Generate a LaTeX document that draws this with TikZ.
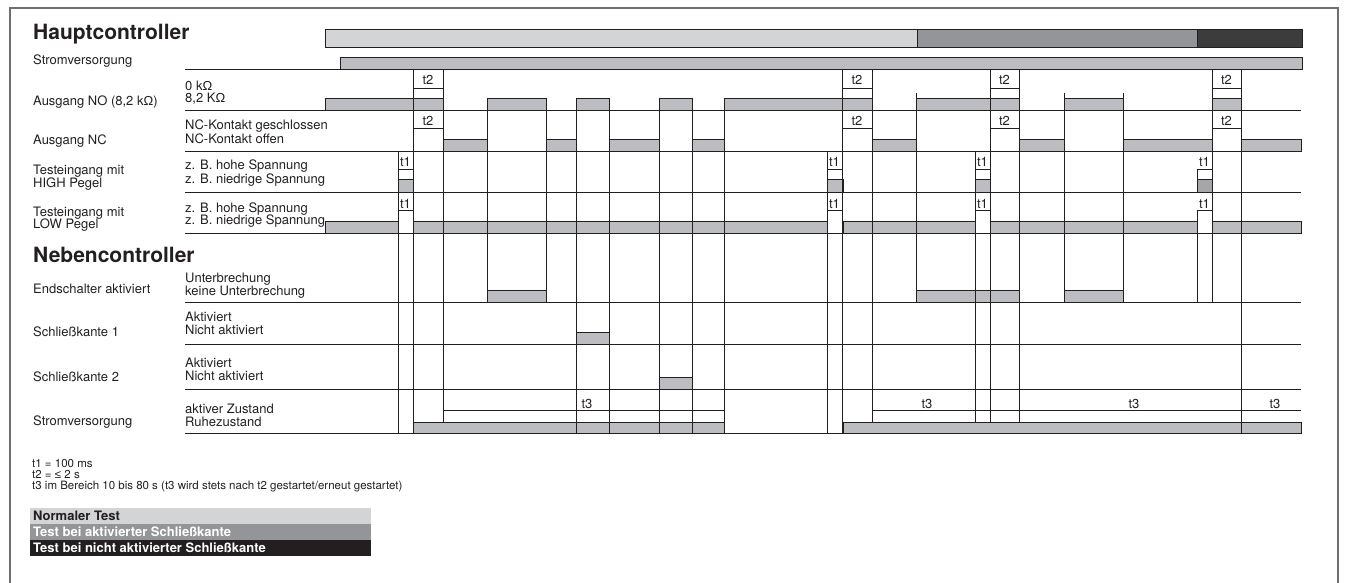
\documentclass[tikz,border=0pt]{standalone}
\usepackage{fontspec}
\setmainfont{TeX Gyre Heros}
\newfontfamily\symf{Liberation Sans}
\definecolor{ink}{HTML}{231F20}
\definecolor{sigfill}{HTML}{BCBDC0}
\definecolor{lightbar}{HTML}{D3D4D6}
\definecolor{midbar}{HTML}{939598}
\definecolor{darkbar}{HTML}{3C3C3C}
\definecolor{darksig}{HTML}{A5A6A8}
\definecolor{framecol}{HTML}{6D6E70}
\begin{document}
\begin{tikzpicture}[x=1pt,y=-1pt,
  lbl/.style={anchor=base west, inner sep=0pt, font=\fontsize{13}{13}\selectfont, text=ink},
  ttl/.style={anchor=base west, inner sep=0pt, font=\fontsize{21}{21}\selectfont\bfseries, text=ink},
  foot/.style={anchor=base west, inner sep=0pt, font=\fontsize{11.5}{11.5}\selectfont, text=ink},
  leg/.style={anchor=base west, inner sep=0pt, font=\fontsize{13}{13}\selectfont\bfseries},
  tl/.style={anchor=base, inner sep=0pt, font=\fontsize{13}{13}\selectfont, text=ink},
  sig/.style={fill=sigfill, draw=ink, line width=0.7pt},
  phase/.style={draw=ink, line width=0.7pt},
  grid/.style={draw=ink, line width=0.9pt}]
\useasboundingbox (0,0) rectangle (1345,583);
% frame
\draw[framecol, line width=1.5pt] (10,600) -- (10,8) -- (1338,8) -- (1338,600);
% phase bar
\draw[phase, fill=lightbar] (325,29) rectangle (917,47);
\draw[phase, fill=midbar] (917,29) rectangle (1197,47);
\draw[phase, fill=darkbar] (1197,29) rectangle (1302,47);
% signal bars
\draw[sig] (340,57) rectangle (1302,69);
\foreach \a/\b in {325/443,487/546,576/609,659/692,724/872,916/1019,1064/1123,1212/1241}
  \draw[sig] (\a,98) rectangle (\b,110);
\foreach \a/\b in {443/487,546/576,609/659,692/724,872/916,1019/1064,1123/1212,1241/1301}
  \draw[sig] (\a,139) rectangle (\b,151);
\foreach \a/\b in {398/413,827/843,975/990}
  \draw[sig] (\a,179) rectangle (\b,192);
\draw[sig, fill=darksig] (1197,179) rectangle (1212,192);
\foreach \a/\b in {325/398,413/827,843/975,990/1197,1212/1301}
  \draw[sig] (\a,221) rectangle (\b,233);
\foreach \a/\b in {487/546,916/1019,1064/1123}
  \draw[sig] (\a,290) rectangle (\b,302);
\draw[sig] (576,332) rectangle (609,344);
\draw[sig] (659,377) rectangle (692,389);
\foreach \a/\b in {413/724,843/1301}
  \draw[sig] (\a,422) rectangle (\b,433);
% row lines
\foreach \y in {69,110,151,192,233,302,344,389,433}
  \draw[grid] (185,\y) -- (1301,\y);
% t3 lines
\draw[grid] (443,410) -- (724,410);
\draw[grid] (872,410) -- (1301,410);
% vertical lines
\foreach \x/\ya/\yb in {398/151/433, 413/69/433, 443/69/422, 487/98/302, 546/98/302,
  576/98/433, 609/98/433, 659/98/433, 692/98/433, 724/98/433, 827/151/433,
  842/69/433, 872/69/422, 916/93/302, 975/151/422, 990/69/422, 1019/69/422,
  1064/93/302, 1123/93/302, 1197/169/192, 1197/210/302, 1212/69/302, 1241/69/433}
  \draw[grid] (\x,\ya) -- (\x,\yb);
% t2 / t1 brackets
\foreach \a/\b in {413/443,842/872,990/1019,1212/1241} {
  \draw[grid] (\a,88) -- (\b,88);
  \node[tl] (tNO\a) at ({(\a+\b)/2},85) {t2};
  \draw[grid] (\a,128) -- (\b,128);
  \node[tl] (tNC\a) at ({(\a+\b)/2},126) {t2};
}
\foreach \a/\b in {398/413,827/842,975/990,1197/1212} {
  \draw[grid] (\a,169) -- (\b,169);
  \node[tl] (tHI\a) at ({(\a+\b)/2},167) {t1};
  \draw[grid] (\a,210) -- (\b,210);
  \node[tl] (tLO\a) at ({(\a+\b)/2},208) {t1};
}
\node[tl] (tA) at (587,408) {t3};
\node[tl] (tB) at (927,408) {t3};
\node[tl] (tC) at (1134,408) {t3};
\node[tl] (tD) at (1275,408) {t3};
% left labels
\node[ttl] (haupt) at (33,40) {Hauptcontroller};
\node[lbl] (l1) at (33,65) {Stromversorgung};
\node[lbl] (l2) at (33,106) {Ausgang NO (8,2 k{\symf Ω})};
\node[lbl] (l3) at (33,145) {Ausgang NC};
\node[lbl] (l4a) at (33,175) {Testeingang mit};
\node[lbl] (l4b) at (33,188) {HIGH Pegel};
\node[lbl] (l5a) at (33,216) {Testeingang mit};
\node[lbl] (l5b) at (33,229) {LOW Pegel};
\node[ttl] (neben) at (33,262) {Nebencontroller};
\node[lbl] (l6) at (33,293) {Endschalter aktiviert};
\node[lbl] (l7) at (33,336) {Schließkante 1};
\node[lbl] (l8) at (33,381) {Schließkante 2};
\node[lbl] (l9) at (33,425) {Stromversorgung};
% state labels
\node[lbl] (s2a) at (185,91) {0 k{\symf Ω}};
\node[lbl] (s2b) at (185,103) {8,2 K{\symf Ω}};
\node[lbl] (s3a) at (185,130) {NC-Kontakt geschlossen};
\node[lbl] (s3b) at (185,144) {NC-Kontakt offen};
\node[lbl] (s4a) at (185,170) {z. B. hohe Spannung};
\node[lbl] (s4b) at (185,183) {z. B. niedrige Spannung};
\node[lbl] (s5a) at (185,212) {z. B. hohe Spannung};
\node[lbl] (s5b) at (185,225) {z. B. niedrige Spannung};
\node[lbl] (s6a) at (185,282) {Unterbrechung};
\node[lbl] (s6b) at (185,295) {keine Unterbrechung};
\node[lbl] (s7a) at (185,321) {Aktiviert};
\node[lbl] (s7b) at (185,334) {Nicht aktiviert};
\node[lbl] (s8a) at (185,367) {Aktiviert};
\node[lbl] (s8b) at (185,380) {Nicht aktiviert};
\node[lbl] (s9a) at (185,413) {aktiver Zustand};
\node[lbl] (s9b) at (185,426) {Ruhezustand};
% footnotes
\node[foot] (f1) at (32,467) {t1 = 100 ms};
\node[foot] (f2) at (32,478) {t2 = {\symf ≤} 2 s};
\node[foot] (f3) at (32,489) {t3 im Bereich 10 bis 80 s (t3 wird stets nach t2 gestartet/erneut gestartet)};
% legend
\fill[lightbar] (30,508) rectangle (371,524);
\fill[midbar] (30,524) rectangle (371,540);
\fill[ink] (30,540) rectangle (371,556);
\node[leg, text=ink] (g1) at (33,520) {Normaler Test};
\node[leg, text=white] (g2) at (33,536) {Test bei aktivierter Schließkante};
\node[leg, text=white] (g3) at (33,552) {Test bei nicht aktivierter Schließkante};
\end{tikzpicture}
\end{document}
